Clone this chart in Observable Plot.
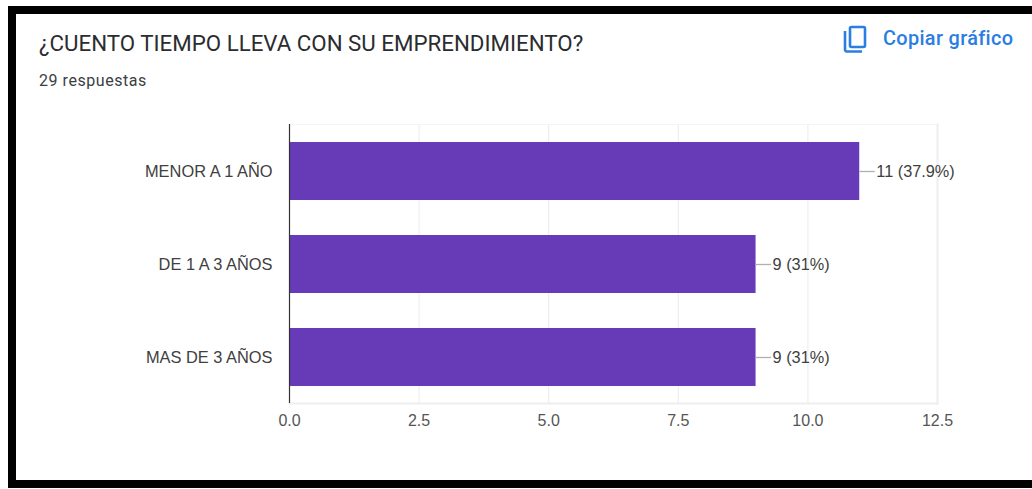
<!DOCTYPE html>
<html>
<head>
<meta charset="utf-8">
<script src="https://cdn.jsdelivr.net/npm/d3@7"></script>
<script src="https://cdn.jsdelivr.net/npm/@observablehq/plot@0.6"></script>
<style>
  html, body { margin: 0; padding: 0; background: #fff; }
  #page { position: relative; width: 1032px; height: 489px; overflow: hidden; background: #fff; }
  #frame { position: absolute; left: 8px; top: 6px; width: 1040px; height: 482px; box-sizing: border-box; border: 8px solid #000; }
  #title { position: absolute; left: 39px; top: 30px; font: 400 22.3px Roboto, sans-serif; color: #2b2c2f; white-space: nowrap; }
  #subtitle { position: absolute; left: 39px; top: 71px; font: 400 16px Roboto, sans-serif; letter-spacing: .55px; color: #3c4043; white-space: nowrap; }
  #copy { position: absolute; left: 883px; top: 27px; font: 500 19.9px Roboto, sans-serif; letter-spacing: .33px; color: #2a7de1; white-space: nowrap; }
  #icon { position: absolute; left: 840px; top: 23px; }
  #chart { position: absolute; left: -0.5px; top: -0.5px; }
  #chart svg { display: block; background: transparent; }
</style>
</head>
<body>
<div id="page">
  <div id="frame"></div>
  <div id="title">¿CUENTO TIEMPO LLEVA CON SU EMPRENDIMIENTO?</div>
  <div id="subtitle">29 respuestas</div>
  <svg id="icon" width="30" height="32" viewBox="0 0 30 32" fill="none" stroke="#2a7de1" stroke-width="2.6">
    <rect x="10" y="4" width="15" height="20" rx="1.5"></rect>
    <path d="M5 8 V26.5 A1.8 1.8 0 0 0 6.8 28.5 H22"></path>
  </svg>
  <div id="copy">Copiar gráfico</div>
  <div id="chart"></div>
</div>
<script>
const categories = ["MENOR A 1 AÑO", "DE 1 A 3 AÑOS", "MAS DE 3 AÑOS"];
const counts = [11, 9, 9];
const valueLabels = ["11 (37.9%)", "9 (31%)", "9 (31%)"];
const tickValues = [0, 2.5, 5, 7.5, 10, 12.5];
const leaderLength = 0.3;

const rows = categories.map((category, i) => ({category, count: counts[i], label: valueLabels[i]}));
const labelFont = "Liberation Sans, Arial, sans-serif";

const chart = Plot.plot({
  width: 1032,
  height: 489,
  marginTop: 124,
  marginBottom: 86,
  marginLeft: 289,
  marginRight: 95,
  style: {background: "transparent", overflow: "visible"},
  x: {domain: [0, 12.5], ticks: tickValues, label: null},
  y: {domain: categories, paddingInner: 0.38, paddingOuter: 0.19, label: null},
  marks: [
    Plot.gridX(tickValues.slice(1), {stroke: "#ebebeb", strokeOpacity: 1, strokeWidth: 1}),
    Plot.frame({anchor: "top", stroke: "#f4f4f4", strokeWidth: 1}),
    Plot.frame({anchor: "right", stroke: "#eeeeee", strokeWidth: 2}),
    Plot.frame({anchor: "bottom", stroke: "#eeeeee", strokeWidth: 2}),
    Plot.barX(rows, {x: "count", y: "category", fill: "#673ab7"}),
    Plot.ruleY(rows, {y: "category", x1: "count", x2: d => d.count + leaderLength, stroke: "#b0b0b0", strokeWidth: 1.3}),
    Plot.text(rows, {
      x: d => d.count + leaderLength, y: "category", text: "label", textAnchor: "start", dx: 1,
      fontFamily: labelFont, fontSize: 16.3, fill: "#404040"
    }),
    Plot.ruleX([0], {stroke: "#333333", strokeWidth: 1.2}),
    Plot.axisX({
      ticks: tickValues, tickSize: 0, tickPadding: 11, tickFormat: d => d.toFixed(1), label: null,
      fontFamily: labelFont, fontSize: 16, color: "#555555"
    }),
    Plot.axisY({
      tickSize: 0, tickPadding: 17, label: null,
      fontFamily: labelFont, fontSize: 16.4, color: "#404040"
    })
  ]
});
document.getElementById("chart").appendChild(chart);
</script>
</body>
</html>
